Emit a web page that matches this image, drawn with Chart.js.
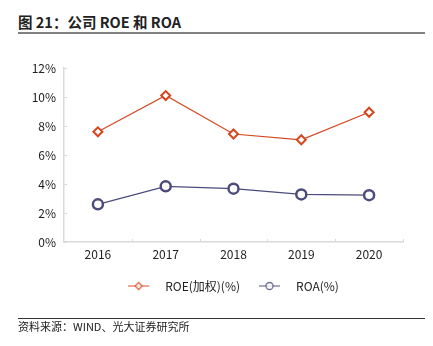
<!DOCTYPE html>
<html>
<head>
<meta charset="utf-8">
<script src="https://cdn.jsdelivr.net/npm/chart.js@4.4.1/dist/chart.umd.min.js"></script>
<style>
  html, body { margin: 0; padding: 0; background: #fff; }
  body { width: 433px; height: 346px; position: relative; overflow: hidden;
         font-family: "Noto Sans CJK SC", "Noto Sans", sans-serif; color: #222; }
  #title { position: absolute; left: 18px; top: 11px; font-size: 14.5px; font-weight: bold; white-space: nowrap; }
  #titleRule { position: absolute; left: 18px; top: 32px; width: 407px; height: 2px; background: #808080; }
  #wrap { position: absolute; left: 0; top: 0; width: 433px; height: 346px; }
  #footRule { position: absolute; left: 18px; top: 318px; width: 407px; height: 1px; background: #333; }
  #source { position: absolute; left: 18px; top: 318px; font-size: 11px; color: #222; white-space: nowrap; }
</style>
</head>
<body>
<div id="title">图 21：公司 ROE 和 ROA</div>
<div id="titleRule"></div>
<div id="wrap"><canvas id="chart" width="433" height="346"></canvas></div>
<div id="footRule"></div>
<div id="source">资料来源：WIND、光大证券研究所</div>
<script>
// years and yearly ratios, in percent
const years = ['2016', '2017', '2018', '2019', '2020'];
const roe = [7.6, 10.1, 7.45, 7.05, 8.95];
const roa = [2.6, 3.84, 3.68, 3.28, 3.23];
const yMin = 0;
const yMax = 12;
const yStep = 2;

const roeColor = '#d5471f';
const roaColor = '#4b4b7d';
const axisColor = '#d9d9d9';

// little line + marker swatch for the legend
function legendSwatch(color, shape) {
    const c = document.createElement('canvas');
    c.width = 31;
    c.height = 10;
    const g = c.getContext('2d');
    g.strokeStyle = color;
    g.globalAlpha = 0.8;
    g.lineWidth = 1.2;
    g.beginPath();
    g.moveTo(0, 5);
    g.lineTo(21, 5);
    g.stroke();
    g.fillStyle = '#fff';
    g.lineWidth = 1.3;
    g.beginPath();
    if (shape === 'diamond') {
        g.moveTo(10.5, 1.5); g.lineTo(14, 5); g.lineTo(10.5, 8.5); g.lineTo(7, 5); g.closePath();
    } else {
        g.arc(10.5, 5, 3.5, 0, Math.PI * 2);
    }
    g.fill();
    g.stroke();
    return c;
}

// short inward tick marks on both axes
const innerTicks = {
    id: 'innerTicks',
    afterDraw(chart) {
        const ctx = chart.ctx;
        const x = chart.scales.x, y = chart.scales.y;
        const area = chart.chartArea;
        ctx.save();
        ctx.strokeStyle = axisColor;
        ctx.lineWidth = 1;
        ctx.beginPath();
        const step = (x.right - x.left) / years.length;
        for (let i = 1; i <= years.length; i++) {
            const px = Math.round(x.left + step * i) + 0.5;
            ctx.moveTo(px, area.bottom);
            ctx.lineTo(px, area.bottom - 3);
        }
        y.ticks.forEach((t, i) => {
            const py = Math.round(y.getPixelForTick(i)) + 0.5;
            ctx.moveTo(area.left, py);
            ctx.lineTo(area.left + 3, py);
        });
        ctx.stroke();
        ctx.restore();
    }
};

// center the legend under the plot area rather than the whole canvas
const legendUnderPlot = {
    id: 'legendUnderPlot',
    afterLayout(chart) {
        const lg = chart.legend;
        const w = lg.right - lg.left;
        const mid = (chart.chartArea.left + chart.chartArea.right) / 2;
        lg.left = mid - w / 2;
        lg.right = mid + w / 2;
    }
};

new Chart(document.getElementById('chart').getContext('2d'), {
    type: 'line',
    data: {
        labels: years,
        datasets: [{
            label: 'ROE(加权)(%)',
            data: roe,
            borderColor: roeColor,
            borderWidth: 1.2,
            pointStyle: 'rectRot',
            pointRadius: 4.5,
            pointBorderWidth: 2,
            pointBackgroundColor: '#fff',
            pointBorderColor: roeColor,
            legendSwatch: legendSwatch(roeColor, 'diamond')
        }, {
            label: 'ROA(%)',
            data: roa,
            borderColor: roaColor,
            borderWidth: 1.2,
            pointStyle: 'circle',
            pointRadius: 5,
            pointBorderWidth: 2.5,
            pointBackgroundColor: '#fff',
            pointBorderColor: roaColor,
            legendSwatch: legendSwatch(roaColor, 'circle')
        }]
    },
    options: {
        responsive: false,
        animation: false,
        layout: { padding: { left: 0, right: 30, top: 68, bottom: 44 } },
        plugins: {
            tooltip: { enabled: false },
            legend: {
                position: 'bottom',
                labels: {
                    usePointStyle: true,
                    pointStyleWidth: 31,
                    padding: 19,
                    color: '#222',
                    font: { family: '"Noto Sans CJK SC", sans-serif', size: 12 },
                    generateLabels(chart) {
                        return chart.data.datasets.map((ds, i) => ({
                            text: ds.label,
                            pointStyle: ds.legendSwatch,
                            fontColor: '#222',
                            lineWidth: 0,
                            strokeStyle: 'transparent',
                            fillStyle: 'transparent',
                            datasetIndex: i
                        }));
                    }
                }
            }
        },
        scales: {
            x: {
                offset: true,
                grid: { display: false, drawTicks: false },
                border: { color: axisColor, width: 1.5 },
                ticks: { color: '#222', padding: 5, font: { family: '"Noto Sans CJK SC", sans-serif', size: 12 } },
                afterFit(s) { s.height = 19; }
            },
            y: {
                min: yMin,
                max: yMax,
                grid: { display: false, drawTicks: false },
                border: { color: axisColor, width: 1.5 },
                ticks: {
                    stepSize: yStep,
                    padding: 8,
                    color: '#222',
                    font: { family: '"Noto Sans CJK SC", sans-serif', size: 12 },
                    callback: v => v + '%'
                },
                afterFit(s) { s.width = 64; }
            }
        }
    },
    plugins: [innerTicks, legendUnderPlot]
});
</script>
</body>
</html>
